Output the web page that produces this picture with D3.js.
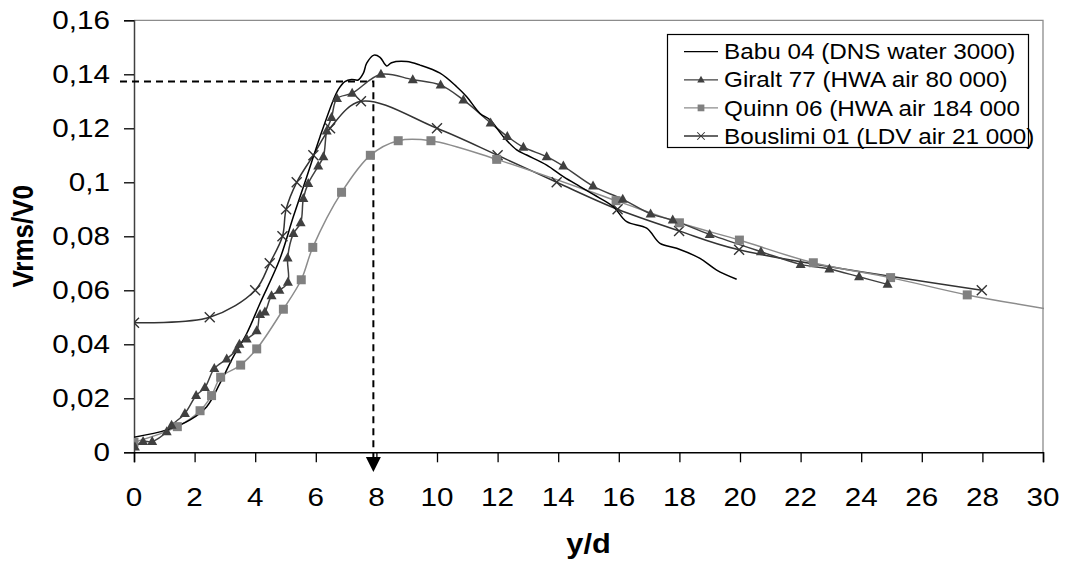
<!DOCTYPE html>
<html>
<head>
<meta charset="utf-8">
<script src="https://cdn.jsdelivr.net/npm/d3@7"></script>
<style>
  body { margin: 0; background: #fff; }
  svg { display: block; font-family: "Liberation Sans", Arial, sans-serif; }
</style>
</head>
<body>
<svg id="chart" width="1067" height="565"></svg>
<script>
// y/d , Vrms/V0 pairs
let babu = [
  [0, 0.0056], [1.08, 0.0083], [1.85, 0.012], [2.4, 0.0169], [2.84, 0.0256],
  [3.28, 0.0354], [3.72, 0.044], [4.16, 0.0552], [4.8, 0.0712], [5.26, 0.0873],
  [5.7, 0.102], [6.14, 0.1169], [6.58, 0.1305], [6.75, 0.1345], [6.96, 0.1373],
  [7.18, 0.1381], [7.4, 0.1379], [7.57, 0.1404], [7.68, 0.1441], [7.92, 0.1471],
  [8.12, 0.1463], [8.34, 0.1431], [8.5, 0.1443], [9.0, 0.1447], [9.44, 0.1434],
  [10.1, 0.1404], [10.65, 0.1354], [10.98, 0.1317], [11.42, 0.1255], [11.75, 0.1231],
  [12.19, 0.1169], [12.63, 0.112], [12.96, 0.1101], [13.62, 0.1064], [14.17, 0.1021],
  [14.72, 0.0984], [15.16, 0.0955], [15.82, 0.091], [16.26, 0.0854], [16.92, 0.083],
  [17.36, 0.0774], [17.91, 0.0756], [18.68, 0.0718], [19.23, 0.0675], [19.89, 0.0641]
];
let giralt = [
  [0.03, 0.002], [0.3, 0.004], [0.6, 0.004], [1.08, 0.0076], [1.24, 0.010],
  [1.68, 0.0144], [2.05, 0.021], [2.34, 0.024], [2.65, 0.031], [3.06, 0.0346],
  [3.39, 0.038], [3.48, 0.040], [3.72, 0.042], [4.05, 0.045], [4.16, 0.051],
  [4.32, 0.052], [4.54, 0.058], [4.8, 0.060], [5.08, 0.063], [5.07, 0.072],
  [5.26, 0.081], [5.5, 0.085], [5.59, 0.094], [5.75, 0.0996], [6.08, 0.106],
  [6.25, 0.1095], [6.36, 0.119], [6.52, 0.124], [6.7, 0.131], [7.2, 0.133],
  [8.15, 0.140], [9.2, 0.138], [10.12, 0.136], [10.87, 0.1305], [11.77, 0.122],
  [12.32, 0.117], [12.85, 0.113], [13.62, 0.1095], [14.17, 0.106], [15.15, 0.0986],
  [16.13, 0.0937], [17.05, 0.0883], [17.78, 0.086], [19.0, 0.0807], [20.69, 0.0743],
  [22.0, 0.0696], [22.95, 0.0679], [23.93, 0.065], [24.87, 0.0622]
];
let quinn = [
  [0.0, 0.0037], [1.43, 0.0095], [2.18, 0.0154], [2.56, 0.021], [2.86, 0.0278],
  [3.52, 0.0323], [4.05, 0.0383], [4.93, 0.053], [5.52, 0.0639], [5.9, 0.0759],
  [6.85, 0.0963], [7.8, 0.110], [8.72, 0.1154], [9.8, 0.1154], [11.97, 0.1085],
  [15.91, 0.0932], [18.0, 0.085], [19.98, 0.0786], [22.42, 0.0702], [24.97, 0.0647],
  [27.5, 0.0583], [31.0, 0.0515]
];
let bouslimi = [
  [0, 0.048], [2.5, 0.050], [4, 0.060], [4.48, 0.070], [4.9, 0.080], [5.02, 0.090],
  [5.37, 0.100], [5.92, 0.110], [6.47, 0.120], [7.49, 0.130], [10, 0.120],
  [12, 0.110], [13.95, 0.100], [15.96, 0.090], [17.99, 0.082], [19.97, 0.075], [27.98, 0.060]
];
let seriesNames = [
  "Babu 04 (DNS water 3000)",
  "Giralt 77 (HWA air 80 000)",
  "Quinn 06 (HWA air 184 000",
  "Bouslimi 01 (LDV air 21 000)"
];
let xTicks = d3.range(0, 31, 2);
let yTicks = d3.range(0, 0.1601, 0.02);
let peak = [7.9, 0.1373];

let svg = d3.select('#chart');
let plotLeft = 134, plotRight = 1043, plotTop = 20.3, plotBottom = 452.3;
let sx = 1.14; // the original picture is stretched sideways

let x = d3.scaleLinear().domain([0, 30]).range([plotLeft, plotRight]);
let y = d3.scaleLinear().domain([0, 0.16]).range([plotBottom, plotTop]);

svg.append('defs').append('clipPath').attr('id', 'plot')
  .append('rect').attr('x', plotLeft).attr('y', 0).attr('width', plotRight - plotLeft + 1).attr('height', plotBottom);

// plot frame (top and right)
svg.append('path')
  .attr('d', `M${plotLeft},${plotTop}H${plotRight}V${plotBottom}`)
  .attr('fill', 'none').attr('stroke', '#8c8c8c').attr('stroke-width', 1.3);

let fmt = (d) => d3.format('.2~f')(d).replace('.', ',');

// axes
let yAxis = svg.append('g').attr('transform', `translate(${plotLeft},0)`)
  .call(d3.axisLeft(y).tickValues(yTicks).tickSize(10).tickFormat(''));
let xAxis = svg.append('g').attr('transform', `translate(0,${plotBottom})`)
  .call(d3.axisBottom(x).tickValues(xTicks).tickSize(10).tickFormat(''));
yAxis.select('.domain').attr('stroke', '#404040').attr('stroke-width', 1.5);
xAxis.select('.domain').attr('stroke', '#000').attr('stroke-width', 1.5);
svg.selectAll('.tick line').attr('stroke', '#000').attr('stroke-width', 1.3);

svg.append('g').selectAll('text').data(yTicks).enter().append('text')
  .attr('transform', (d) => `translate(110,${y(d) + 9}) scale(${sx},1)`)
  .attr('text-anchor', 'end').attr('font-size', 26).text(fmt);
svg.append('g').selectAll('text').data(xTicks).enter().append('text')
  .attr('transform', (d) => `translate(${x(d)},${505.5}) scale(${sx},1)`)
  .attr('text-anchor', 'middle').attr('font-size', 26).text((d) => d);

svg.append('text')
  .attr('transform', `translate(${(plotLeft + plotRight) / 2},553) scale(${sx},1)`)
  .attr('text-anchor', 'middle').attr('font-size', 27).attr('font-weight', 'bold').text('y/d');
svg.append('text')
  .attr('transform', `translate(33,${(plotTop + plotBottom) / 2}) scale(${sx},1) rotate(-90)`)
  .attr('text-anchor', 'middle').attr('font-size', 26).attr('font-weight', 'bold').text('Vrms/V0');

// dashed guide to the peak
svg.append('path')
  .attr('d', `M120,${y(peak[1])}H${x(peak[0])}V457`)
  .attr('fill', 'none').attr('stroke', '#000').attr('stroke-width', 2).attr('stroke-dasharray', '7,5');
svg.append('path')
  .attr('d', `M${x(peak[0]) - 7.5},457H${x(peak[0]) + 7.5}L${x(peak[0])},472Z`)
  .attr('fill', '#000');

let styles = [
  { data: babu, color: '#000', mark: null, mcolor: '#000' },
  { data: giralt, color: '#404040', mark: 'tri', mcolor: '#404040' },
  { data: quinn, color: '#8c8c8c', mark: 'sq', mcolor: '#808080' },
  { data: bouslimi, color: '#333', mark: 'x', mcolor: '#333' }
];

function marker(g, kind, color) {
  if (kind === 'tri') {
    g.append('path').attr('d', 'M0,-5.5L5,3.5H-5Z').attr('fill', color);
  } else if (kind === 'sq') {
    g.append('rect').attr('x', -4.5).attr('y', -4.5).attr('width', 9).attr('height', 9).attr('fill', color);
  } else if (kind === 'x') {
    g.append('path').attr('d', 'M-5,-5L5,5M-5,5L5,-5').attr('stroke', color).attr('stroke-width', 1.4);
  }
}

let line = d3.line().x((d) => x(d[0])).y((d) => y(d[1])).curve(d3.curveCatmullRom.alpha(0.5));
let plot = svg.append('g').attr('clip-path', 'url(#plot)');

// draw in reverse so Babu ends up on top
styles.slice().reverse().forEach((s) => {
  plot.append('path').datum(s.data).attr('d', line)
    .attr('fill', 'none').attr('stroke', s.color).attr('stroke-width', 1.5);
});
styles.slice().reverse().forEach((s) => {
  if (!s.mark) return;
  plot.selectAll(null).data(s.data.filter((d) => d[0] <= 30)).enter().append('g')
    .attr('transform', (d) => `translate(${x(d[0])},${y(d[1])})`)
    .each(function () { marker(d3.select(this), s.mark, s.mcolor); });
});

// legend
let legend = svg.append('g');
legend.append('rect').attr('x', 667.5).attr('y', 34.5).attr('width', 361).attr('height', 113)
  .attr('fill', '#fff').attr('stroke', '#000').attr('stroke-width', 1.2);
let rowY = d3.scaleLinear().domain([0, 3]).range([51.7, 136]);
seriesNames.forEach((name, i) => {
  let s = styles[i];
  let cy = rowY(i);
  legend.append('line').attr('x1', 684).attr('x2', 718).attr('y1', cy).attr('y2', cy)
    .attr('stroke', s.color).attr('stroke-width', 1.3);
  let g = legend.append('g').attr('transform', `translate(701,${cy}) scale(0.75)`);
  marker(g, s.mark, s.mcolor);
  legend.append('text').attr('transform', `translate(724,${cy + 7.6}) scale(${sx},1)`)
    .attr('font-size', 21.3).text(name);
});
</script>
</body>
</html>
